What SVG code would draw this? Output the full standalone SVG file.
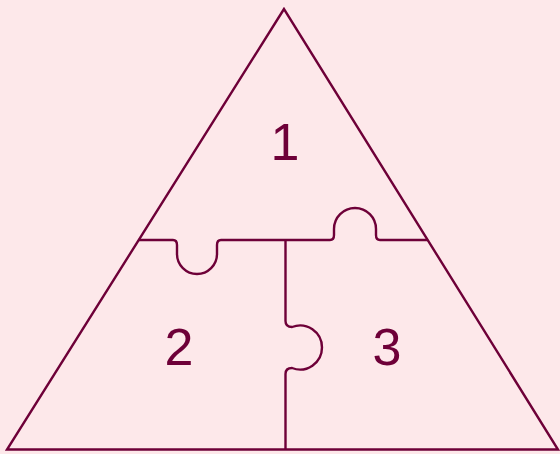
<svg xmlns="http://www.w3.org/2000/svg" width="560" height="454" viewBox="0 0 560 454">
<style>
.ln{fill:none;stroke:#6e0038;stroke-width:2.4;stroke-linejoin:miter;stroke-linecap:butt}
.lbl{font-family:"Liberation Sans",Arial,sans-serif;font-size:52px;fill:#6e0038;text-anchor:middle}
</style>
<rect width="560" height="454" fill="#fde8ea"/>
<g id="triangle"><path class="ln" d="M284,9 L7,449.5 L558,449.5 Z"/></g>
<g id="connectors">
<path class="ln" d="M138.6,240 L173,240 Q177,240 177,245 L177,254 A20,20 0 0 0 217,254 L217,245 Q217,240 221,240 L330,240 Q334,240 334,235 L334,229 A21,21 0 0 1 376,229 L376,235 Q376,240 380,240 L427.8,240"/>
<path class="ln" d="M285.5,240 L285.5,321 Q285.5,327 292,327 A22,22 0 1 1 292,368 Q285.5,368 285.5,374 L285.5,449.5"/>
</g>
<g id="n1"><text class="lbl" x="285" y="160">1</text></g>
<g id="n2"><text class="lbl" x="179" y="365">2</text></g>
<g id="n3"><text class="lbl" x="387" y="365">3</text></g>
</svg>
